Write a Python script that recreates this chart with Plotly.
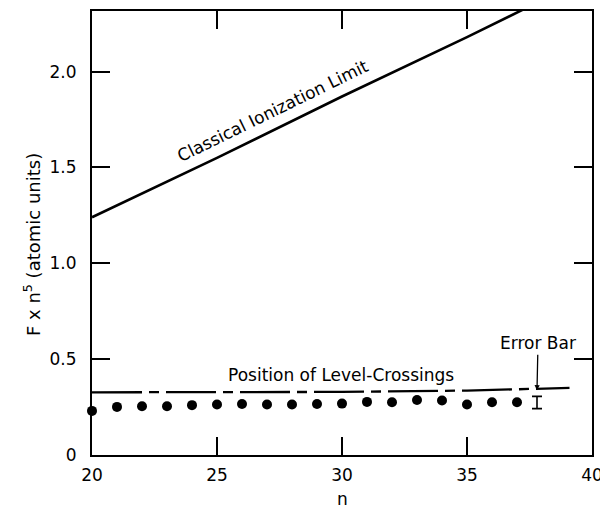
import plotly.graph_objects as go

# Data
n_dots = [20, 21, 22, 23, 24, 25, 26, 27, 28, 29, 30, 31, 32, 33, 34, 35, 36, 37]
f_dots = [0.230, 0.251, 0.254, 0.254, 0.260, 0.263, 0.266, 0.263, 0.263, 0.266,
          0.268, 0.277, 0.275, 0.287, 0.284, 0.263, 0.275, 0.275]

n_classical = [20, 25, 30, 35, 40]
f_classical = [1.24, 1.55, 1.87, 2.18, 2.50]

n_crossing = [20, 30, 35, 39.1]
f_crossing = [0.327, 0.329, 0.336, 0.350]

n_errbar = [37.8]
f_errbar = [0.274]
err_half = [0.032]

x_ticks = [20, 25, 30, 35, 40]
x_ticklabels = ["20", "25", "30", "35", "40"]
y_ticks = [0, 0.5, 1.0, 1.5, 2.0]
y_ticklabels = ["0", "0.5", "1.0", "1.5", "2.0"]

FONT = "DejaVu Sans"

fig = go.Figure()

fig.add_trace(go.Scatter(x=n_classical, y=f_classical, mode="lines",
                         line=dict(color="black", width=2.6), showlegend=False))
fig.add_trace(go.Scatter(x=n_crossing, y=f_crossing, mode="lines",
                         line=dict(color="black", width=2.3, dash="50px,7px,10px,7px"),
                         showlegend=False))
fig.add_trace(go.Scatter(x=n_dots, y=f_dots, mode="markers",
                         marker=dict(color="black", size=10), cliponaxis=False,
                         showlegend=False))
fig.add_trace(go.Scatter(x=n_errbar, y=f_errbar, mode="markers",
                         marker=dict(color="rgba(0,0,0,0)", size=2),
                         error_y=dict(type="data", array=err_half, visible=True,
                                      color="black", thickness=1.6, width=5),
                         showlegend=False))

fig.add_annotation(x=27.22, y=1.792, xref="x", yref="y", text="Classical Ionization Limit",
                   showarrow=False, textangle=-26, font=dict(family=FONT, size=17, color="black"))
fig.add_annotation(x=29.95, y=0.416, xref="x", yref="y", text="Position of Level-Crossings",
                   showarrow=False, font=dict(family=FONT, size=17, color="black"))
fig.add_annotation(x=37.8, y=0.3375, xref="x", yref="y", text="Error Bar",
                   showarrow=True, ax=1, ay=-47, arrowhead=2, arrowsize=0.8,
                   arrowwidth=1.3, arrowcolor="black", standoff=0,
                   font=dict(family=FONT, size=17, color="black"))
fig.add_annotation(x=0.5, y=-0.10, xref="paper", yref="paper", text="n",
                   xanchor="center", yanchor="middle",
                   showarrow=False, font=dict(family=FONT, size=17, color="black"))
fig.add_annotation(x=-0.12, y=0.473, xref="paper", yref="paper",
                   text="F x n<sup>5</sup> (atomic units)",
                   xanchor="center", yanchor="middle",
                   showarrow=False, textangle=-90,
                   font=dict(family=FONT, size=18, color="black"))

axis_common = dict(showline=True, linecolor="black", linewidth=2, mirror="ticks",
                   ticks="inside", ticklen=18, tickwidth=1.5, tickcolor="black",
                   showgrid=False, zeroline=False,
                   tickfont=dict(family=FONT, size=17, color="black"))

fig.update_xaxes(range=[20, 40], tickvals=x_ticks, ticktext=x_ticklabels,
                 ticklabelstandoff=4, **axis_common)
fig.update_yaxes(range=[0, 2.316], tickvals=y_ticks, ticktext=y_ticklabels,
                 ticklabelstandoff=10, **axis_common)

# page body has an 8px margin, so the figure is offset by 8px
fig.update_layout(width=600, height=502, margin=dict(l=84, r=16, t=1, b=55),
                  paper_bgcolor="white", plot_bgcolor="white",
                  font=dict(family=FONT, color="black"))

fig.write_html("out.html")
